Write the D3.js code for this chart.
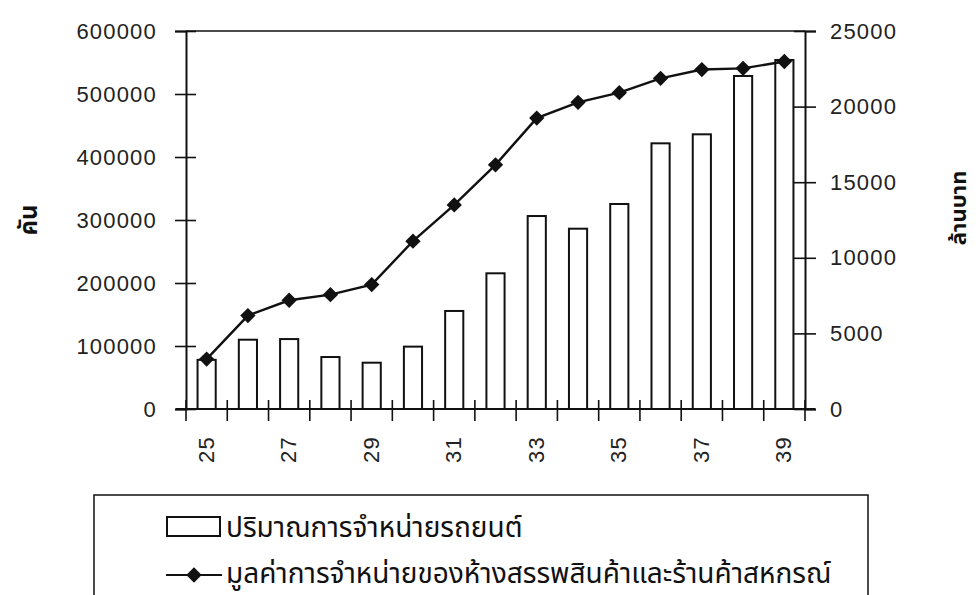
<!DOCTYPE html>
<html>
<head>
<meta charset="utf-8">
<script src="https://cdn.jsdelivr.net/npm/d3@7"></script>
<style>
  body { margin: 0; background: #fff; }
  svg { display: block; }
  .num { font-family: "Liberation Sans", Arial, sans-serif; font-size: 22px; letter-spacing: 1.2px; fill: #222; }
  .thai { font-family: "Noto Sans Thai", "Loma", "Garuda", "Norasi", "DejaVu Sans", sans-serif; fill: #111; }
</style>
</head>
<body>
<div id="chart"></div>
<script>
// Data
const years = ["25", "26", "27", "28", "29", "30", "31", "32", "33", "34", "35", "36", "37", "38", "39"];
const carSales = [78000, 110000, 111000, 82500, 73500, 99000, 155600, 215400, 306300, 286200, 325400, 421700, 436000, 528600, 554000];
const storeSales = [3300, 6180, 7190, 7560, 8230, 11100, 13500, 16150, 19240, 20280, 20920, 21870, 22450, 22530, 22980];
const leftTicks = [0, 100000, 200000, 300000, 400000, 500000, 600000];
const rightTicks = [0, 5000, 10000, 15000, 20000, 25000];
const xLabels = ["25", "27", "29", "31", "33", "35", "37", "39"];
const leftTitle = "คัน";
const rightTitle = "ล้านบาท";
const legendBars = "ปริมาณการจำหน่ายรถยนต์";
const legendLine = "มูลค่าการจำหน่ายของห้างสรรพสินค้าและร้านค้าสหกรณ์";

const W = 979, H = 595;
const plot = { left: 186, right: 805, top: 31, bottom: 409 };

const svg = d3.select("#chart").append("svg")
    .attr("width", W)
    .attr("height", H);

// Scales
const x = d3.scaleBand()
    .domain(years)
    .range([plot.left, plot.right])
    .padding(0);

const yLeft = d3.scaleLinear()
    .domain([0, 600000])
    .range([plot.bottom, plot.top]);

const yRight = d3.scaleLinear()
    .domain([0, 25000])
    .range([plot.bottom, plot.top]);

// Top border of the plot
svg.append("line")
    .attr("x1", plot.left).attr("x2", plot.right)
    .attr("y1", plot.top).attr("y2", plot.top)
    .attr("stroke", "#111").attr("stroke-width", 1.6);

// Bars
const barW = x.bandwidth() * 0.44;
svg.selectAll(".bar")
    .data(years)
    .enter()
    .append("rect")
    .attr("class", "bar")
    .attr("x", d => x(d) + (x.bandwidth() - barW) / 2)
    .attr("y", (d, i) => yLeft(carSales[i]))
    .attr("width", barW)
    .attr("height", (d, i) => plot.bottom - yLeft(carSales[i]))
    .attr("fill", "#fff")
    .attr("stroke", "#111")
    .attr("stroke-width", 2);

// Left axis (ticks cross the line)
const gLeft = svg.append("g")
    .attr("transform", `translate(${plot.left},0)`)
    .call(d3.axisLeft(yLeft).tickValues(leftTicks).tickSize(11).tickPadding(18).tickFormat(d3.format("d")));
gLeft.select(".domain").attr("stroke", "#111").attr("stroke-width", 2);
gLeft.selectAll(".tick line").attr("x1", 10).attr("stroke", "#111").attr("stroke-width", 1.6);
gLeft.selectAll(".tick text").attr("class", "num").attr("font-size", null).attr("font-family", null);

// Right axis
const gRight = svg.append("g")
    .attr("transform", `translate(${plot.right},0)`)
    .call(d3.axisRight(yRight).tickValues(rightTicks).tickSize(11).tickPadding(14).tickFormat(d3.format("d")));
gRight.select(".domain").attr("stroke", "#111").attr("stroke-width", 2);
gRight.selectAll(".tick line").attr("x1", -11).attr("stroke", "#111").attr("stroke-width", 1.6);
gRight.selectAll(".tick text").attr("class", "num").attr("font-size", null).attr("font-family", null);

// Bottom axis: ticks at band boundaries
const bounds = years.map(d => x(d)).concat([plot.right]);
svg.append("line")
    .attr("x1", plot.left - 10).attr("x2", plot.right + 10)
    .attr("y1", plot.bottom).attr("y2", plot.bottom)
    .attr("stroke", "#111").attr("stroke-width", 2);
svg.selectAll(".xtick")
    .data(bounds)
    .enter()
    .append("line")
    .attr("class", "xtick")
    .attr("x1", d => d).attr("x2", d => d)
    .attr("y1", plot.bottom - 9).attr("y2", plot.bottom + 12)
    .attr("stroke", "#111").attr("stroke-width", 1.6);

// Rotated x labels (every other year)
svg.selectAll(".xlabel")
    .data(xLabels)
    .enter()
    .append("text")
    .attr("class", "num")
    .attr("transform", d => `translate(${x(d) + x.bandwidth() / 2 + 7},436) rotate(-90)`)
    .attr("text-anchor", "end")
    .text(d => d);

// Line series
const line = d3.line()
    .x((d, i) => x(years[i]) + x.bandwidth() / 2)
    .y(d => yRight(d));

svg.append("path")
    .datum(storeSales)
    .attr("d", line)
    .attr("fill", "none")
    .attr("stroke", "#111")
    .attr("stroke-width", 2.4);

const diamond = d3.symbol().type(d3.symbolDiamond2).size(150);
svg.selectAll(".marker")
    .data(storeSales)
    .enter()
    .append("path")
    .attr("class", "marker")
    .attr("d", diamond)
    .attr("transform", (d, i) => `translate(${x(years[i]) + x.bandwidth() / 2},${yRight(d)})`)
    .attr("fill", "#111");

// Axis titles
svg.append("text")
    .attr("class", "thai")
    .attr("transform", "translate(37,220) rotate(-90)")
    .attr("text-anchor", "middle")
    .attr("font-size", 24)
    .attr("font-weight", "bold")
    .text(leftTitle);

svg.append("text")
    .attr("class", "thai")
    .attr("transform", "translate(966,208) rotate(-90)")
    .attr("text-anchor", "middle")
    .attr("font-size", 22)
    .attr("font-weight", "bold")
    .text(rightTitle);

// Legend
const legend = svg.append("g");
legend.append("rect")
    .attr("x", 94).attr("y", 495)
    .attr("width", 774).attr("height", 140)
    .attr("fill", "none")
    .attr("stroke", "#111").attr("stroke-width", 1.5);

legend.append("rect")
    .attr("x", 167).attr("y", 517)
    .attr("width", 53).attr("height", 19)
    .attr("fill", "#fff")
    .attr("stroke", "#111").attr("stroke-width", 2);

legend.append("text")
    .attr("class", "thai")
    .attr("x", 226).attr("y", 537)
    .attr("font-size", 28)
    .text(legendBars);

legend.append("line")
    .attr("x1", 166).attr("x2", 222)
    .attr("y1", 575).attr("y2", 575)
    .attr("stroke", "#111").attr("stroke-width", 2);
legend.append("path")
    .attr("d", diamond)
    .attr("transform", "translate(194,575)")
    .attr("fill", "#111");

legend.append("text")
    .attr("class", "thai")
    .attr("x", 226).attr("y", 583)
    .attr("font-size", 28)
    .text(legendLine);
</script>
</body>
</html>
